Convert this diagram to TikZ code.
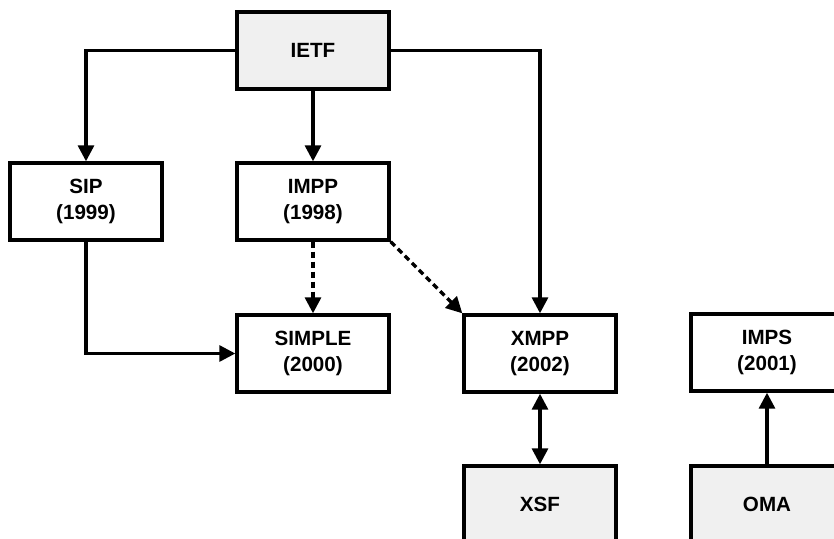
\documentclass[tikz,border=0pt]{standalone}
\usepackage{fontspec}
\setmainfont{Liberation Sans}
\usepackage{xcolor}
\definecolor{grisCaja}{RGB}{240,240,240}
\usepackage{tikz}
\usetikzlibrary{arrows.meta, positioning}

\begin{document}
\begin{tikzpicture}[x=0.5pt, y=-0.5pt,
  caja/.style={draw, line width=1.7pt, minimum width=76pt, minimum height=38.5pt,
    align=center, font=\bfseries\fontsize{10.3}{13}\selectfont, fill=white},
  org/.style={caja, fill=grisCaja},
  flecha/.style={line width=1.6pt, -{Triangle[length=8pt, width=8pt]}},
  ambas/.style={line width=1.6pt, {Triangle[length=8pt, width=8pt]}-{Triangle[length=8pt, width=8pt]}},
  punteada/.style={flecha, dash pattern=on 3pt off 2pt}]
  \clip (0,0) rectangle (834,538);

  % Organismos
  \node[org] (ietf) at (313,50.5) {IETF};
  \node[org] (xsf) at (540,504.5) {XSF};
  \node[org] (oma) at (767,504.5) {OMA};

  % Protocolos
  \node[caja] (sip) at (86,201.5) {SIP\\(1999)};
  \node[caja] (impp) at (313,201.5) {IMPP\\(1998)};
  \node[caja] (simple) at (313,353.5) {SIMPLE\\(2000)};
  \node[caja] (xmpp) at (540,353.5) {XMPP\\(2002)};
  \node[caja] (imps) at (767,352.5) {IMPS\\(2001)};

  % Conexiones
  \draw[flecha] (ietf.west) -| (sip.north);
  \draw[flecha] (ietf) -- (impp);
  \draw[flecha] (ietf.east) -| (xmpp.north);
  \draw[flecha] (sip.south) |- (simple.west);
  \draw[punteada] (impp) -- (simple);
  \draw[punteada] (impp.south east) -- (xmpp.north west);
  \draw[ambas] (xmpp) -- (xsf);
  \draw[flecha] (oma) -- (imps);
\end{tikzpicture}
\end{document}
